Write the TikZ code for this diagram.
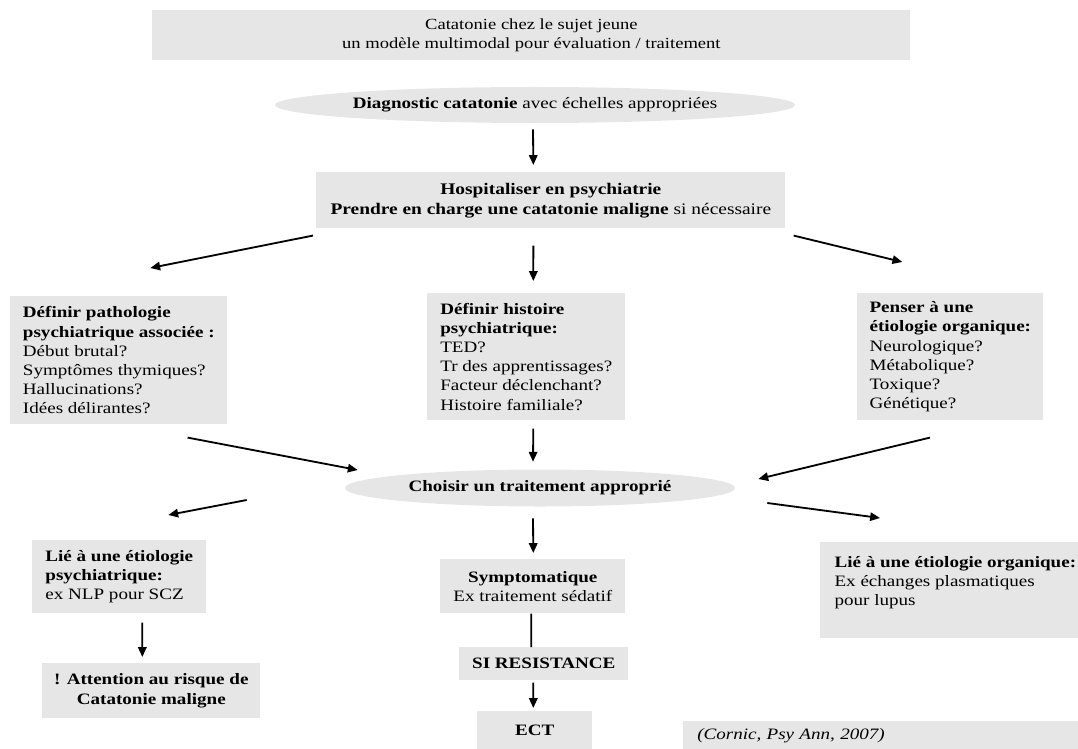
\documentclass[tikz,border=0pt]{standalone}
\usepackage{fontspec}
\setmainfont{Liberation Serif}[FakeStretch=1.2, ItalicFont={Liberation Serif Italic}, BoldFont={Liberation Serif Bold}]
\usetikzlibrary{arrows.meta,shapes.geometric}
\definecolor{boxgrey}{HTML}{E6E6E6}
\tikzset{
  box/.style={fill=boxgrey, inner sep=0pt, anchor=north west, font=\fontsize{11.3}{13.6}\selectfont},
  leftbox/.style={box, align=left},
  midbox/.style={box, align=center},
  oval/.style={ellipse, fill=boxgrey, inner sep=0pt, font=\fontsize{11.3}{13.6}\selectfont},
  arr/.style={line width=1.3pt, -{Triangle[length=7pt,width=6pt]}},
  link/.style={line width=1.3pt},
}

\begin{document}
\begin{tikzpicture}[x=0.025cm, y=-0.025cm]
\useasboundingbox (0,0) rectangle (1078,749);
\node[midbox, minimum width=18.95cm, minimum height=1.25cm, font=\fontsize{11}{14.2}\selectfont] (title) at (152,10) {Catatonie chez le sujet jeune\\un modèle multimodal pour évaluation / traitement};
\node[oval, minimum width=13cm, minimum height=0.9cm] (diag) at (535,105) {\textbf{Diagnostic catatonie} avec échelles appropriées};
\node[midbox, minimum width=11.725cm, minimum height=1.4cm, font=\fontsize{11.5}{14.2}\selectfont] (hosp) at (316,172) {\textbf{Hospitaliser en psychiatrie}\\\textbf{Prendre en charge une catatonie maligne} si nécessaire};
\node[leftbox, minimum width=5.425cm, minimum height=3.2cm] (patho) at (10,296) {\textbf{Définir pathologie}\\\textbf{psychiatrique associée :}\\Début brutal?\\Symptômes thymiques?\\Hallucinations?\\Idées délirantes?};
\node[leftbox, minimum width=4.95cm, minimum height=3.175cm] (hist) at (427,293) {\textbf{Définir histoire}\\\textbf{psychiatrique:}\\TED?\\Tr des apprentissages?\\Facteur déclenchant?\\Histoire familiale?};
\node[leftbox, minimum width=4.65cm, minimum height=3.175cm] (orga) at (857,293) {\textbf{Penser à une}\\\textbf{étiologie organique:}\\Neurologique?\\Métabolique?\\Toxique?\\Génétique?};
\node[oval, minimum width=9.75cm, minimum height=0.925cm] (choix) at (540,488) {\textbf{Choisir un traitement approprié}};
\node[leftbox, minimum width=4.35cm, minimum height=1.825cm] (psy) at (32,540) {\textbf{Lié à une étiologie}\\\textbf{psychiatrique:}\\ex NLP pour SCZ};
\node[midbox, minimum width=5.45cm, minimum height=1.375cm] (attn) at (42,663) {\textbf{! Attention au risque de}\\\textbf{Catatonie maligne}};
\node[midbox, minimum width=4.625cm, minimum height=1.35cm] (sympt) at (440,559) {\textbf{Symptomatique}\\Ex traitement sédatif};
\node[midbox, minimum width=4.225cm, minimum height=0.825cm] (resist) at (459,647) {\textbf{SI RESISTANCE}};
\node[midbox, minimum width=2.875cm, minimum height=0.95cm] (ect) at (477,711) {\textbf{ECT}};
\node[leftbox, minimum width=6.75cm, minimum height=2.4cm] (orglie) at (820,542) {\textbf{Lié à une étiologie organique:}\\Ex échanges plasmatiques\\pour lupus\\ \mbox{}};
\node[leftbox, inner xsep=0.35cm, text width=9.175cm, minimum height=0.7cm] (cite) at (683,721) {\textit{(Cornic, Psy Ann, 2007)}};

\draw[arr] ([shift={(-2,6)}]diag.south) -- ([shift={(-17.5,-7)}]hosp.north);
\draw[arr] ([shift={(-3,7)}]hosp.south west) -- ([shift={(31.5,-28)}]patho.north);
\draw[arr] ([shift={(-17.5,17)}]hosp.south) -- ([shift={(7,-12)}]hist.north);
\draw[arr] ([shift={(8,7)}]hosp.south east) -- ([shift={(-48,-31)}]orga.north);
\draw[arr] ([shift={(-40,13)}]patho.south east) -- ([shift={(13,-18)}]choix.west);
\draw[arr] ([shift={(7,8)}]hist.south) -- ([shift={(-7,-7.5)}]choix.north);
\draw[arr] ([shift={(73,17)}]orga.south west) -- ([shift={(23,-9)}]choix.east);
\draw[arr] ([shift={(-98,12)}]choix.west) -- ([shift={(49,-25)}]psy.north);
\draw[arr] ([shift={(-7,11.5)}]choix.south) -- ([shift={(0.5,-6)}]sympt.north);
\draw[arr] ([shift={(32,15)}]choix.east) -- ([shift={(60,-24)}]orglie.north west);
\draw[arr] ([shift={(23,9)}]psy.south) -- ([shift={(-9,-6)}]attn.north);
\draw[link] ([shift={(-1.5,0)}]sympt.south) -- ([shift={(-12.5,0)}]resist.north);
\draw[arr] ([shift={(-10.5,2)}]resist.south) -- ([shift={(-1.5,-3)}]ect.north);
\end{tikzpicture}
\end{document}
